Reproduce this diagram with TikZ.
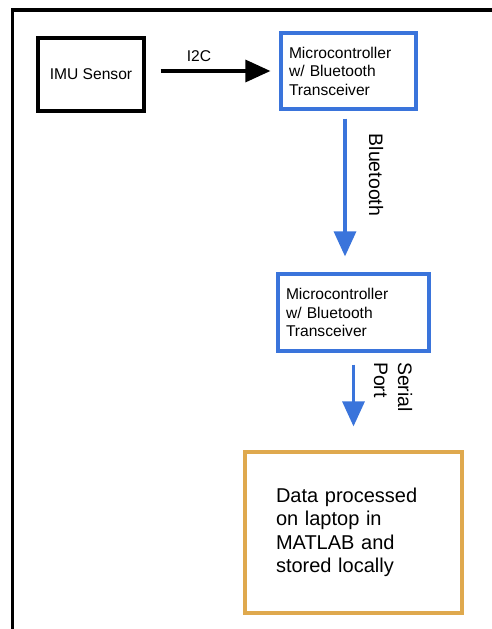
\documentclass[tikz,border=0pt]{standalone}
\usepackage{fontspec}
\setmainfont{Liberation Sans}
\usepackage{xcolor}
\usetikzlibrary{
  arrows.meta,
  calc,
}
\definecolor{mcblue}{HTML}{3A74DB}
\definecolor{pcorange}{HTML}{DFA94E}

\begin{document}
\begin{tikzpicture}[
    x=1pt, y=-1pt,
    box/.style={draw, line width=3.2pt, inner sep=0pt, font=\fontsize{15.6}{18.5}\selectfont},
    mcbox/.style={box, draw=mcblue, align=left, inner xsep=8pt, minimum height=76pt},
    flow/.style={line width=3.2pt, -{Triangle[length=25pt, width=22pt]}},
    lbl/.style={inner sep=0pt, font=\fontsize{15.6}{18}\selectfont},
    vlbl/.style={inner sep=0pt, rotate=-90, align=left, font=\fontsize{19.5}{24}\selectfont},
  ]
  \useasboundingbox (0,0) rectangle (492,629);
  % open frame
  \draw[line width=3.2pt] (12.5,629) -- (12.5,10) -- (492,10);

  \node[box, minimum width=106pt, minimum height=73pt] (imu) at (91,74.5) {IMU Sensor};
  \node[mcbox, text width=119pt] (mcA) at (348.5,71) {Microcontroller\\w/ Bluetooth\\Transceiver};
  \node[mcbox, text width=135pt, minimum height=77pt] (mcB) at (353.5,312.5) {Microcontroller\\w/ Bluetooth\\Transceiver};
  \node[box, draw=pcorange, text width=155pt, inner xsep=31pt, minimum height=161pt,
    align=left, font=\fontsize{20}{23.5}\selectfont] (pc) at (353.5,532.5)
    {Data processed\\on laptop in\\MATLAB and\\stored locally\\[6pt]};

  % links
  \draw[flow, shorten <=15pt, shorten >=9pt] (imu.east |- mcA.west) -- (mcA.west);
  \node[lbl] (iic) at (199,56) {I2C};

  \draw[flow, mcblue, shorten <=8pt, shorten >=16pt]
    ($(mcA.south)+(-3.5,0)$) -- ($(mcA.south |- mcB.north)+(-3.5,0)$);
  \node[vlbl] (bt) at (376,175) {Bluetooth};

  \draw[flow, mcblue, shorten <=12pt, shorten >=24pt] (mcB.south) -- (mcB.south |- pc.north);
  \node[vlbl] (sp) at (393,387) {Serial\\Port};
\end{tikzpicture}
\end{document}
